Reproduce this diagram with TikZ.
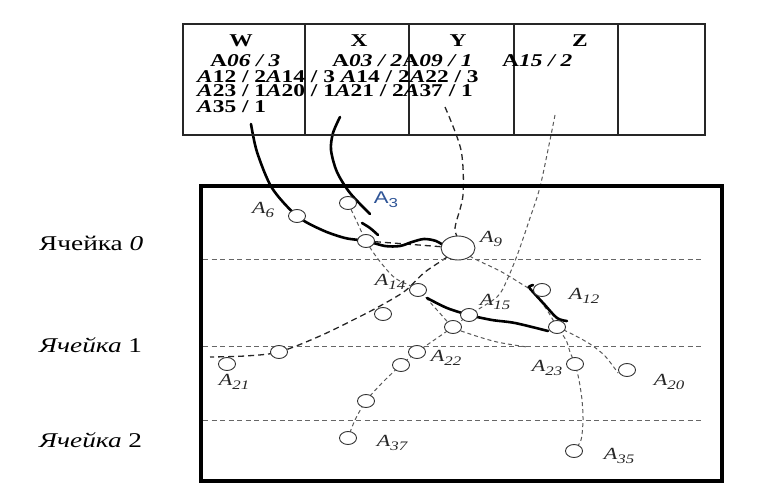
\documentclass[tikz,border=0pt]{standalone}
\usepackage{fontspec}
\setmainfont{Liberation Serif}[FakeStretch=1.3]
\newfontfamily\labsans{Liberation Sans}[FakeStretch=1.3]
\usetikzlibrary{shapes.geometric,backgrounds}
\definecolor{labblue}{RGB}{46,84,150}
\newcommand{\lsub}[1]{\raisebox{-0.45ex}{\fontsize{13}{13}\selectfont #1}}

\begin{document}
\begin{tikzpicture}[x=1pt, y=-1pt,
    frame/.style={draw=black, line width=3.5pt},
    cellline/.style={draw=black!85, line width=1.2pt},
    rowline/.style={draw=black!60, line width=0.9pt, dash pattern=on 5pt off 3.5pt},
    pathA/.style={draw=black!85, line width=1.3pt, dash pattern=on 6pt off 4pt},
    pathB/.style={draw=black!65, line width=1pt, dash pattern=on 4pt off 3pt},
    route/.style={draw=black, line width=2.6pt, line cap=round},
    spot/.style={draw=black!80, ellipse, line width=0.9pt, fill=white, minimum width=17pt, minimum height=13pt, inner sep=0pt},
    bigspot/.style={spot, minimum width=34pt, minimum height=24pt},
    lab/.style={font=\fontsize{17}{17}\selectfont\itshape, text=black!85, inner sep=0pt},
    hdr/.style={font=\fontsize{18}{18}\selectfont\bfseries, anchor=base},
    cell/.style={font=\fontsize{18}{18}\selectfont\bfseries, anchor=base west, inner sep=0pt},
    row/.style={font=\fontsize{21}{21}\selectfont, anchor=west, inner sep=0pt}
]
    \useasboundingbox (0,0) rectangle (775,492);

    % Таблица сверху
    \draw[cellline] (183,24) rectangle (705,135);
    \foreach \x in {305,409,514,618}
        \draw[cellline] (\x,24) -- (\x,135);
    \node[hdr] (hw) at (241,47) {W};
    \node[hdr] (hx) at (359,47) {X};
    \node[hdr] (hy) at (458,47) {Y};
    \node[hdr] (hz) at (580,47) {Z};
    \node[cell] (t1a) at (210,67) {A\textit{06 / 3}};
    \node[cell] (t1b) at (332,67) {A\textit{03 / 2}A\textit{09 / 1}};
    \node[cell] (t1c) at (502,67) {A\textit{15 / 2}};
    \node[cell] (t2) at (197,83) {\textit{A}12 / 2\textit{A}14 / 3 \textit{A}14 / 2\textit{A}22 / 3};
    \node[cell] (t3) at (197,97) {\textit{A}23 / 1\textit{A}20 / 1\textit{A}21 / 2\textit{A}37 / 1};
    \node[cell] (t4) at (197,112) {\textit{A}35 / 1};

    % Поле и ячейки
    \draw[frame] (201,186) rectangle (722,481);
    \foreach \y in {259,346,420}
        \draw[rowline] (203,\y) -- (704,\y);
    \node[row] (r0) at (39,243) {Ячейка \textit{0}};
    \node[row] (r1) at (39,345) {\textit{Ячейка} 1};
    \node[row] (r2) at (39,440) {\textit{Ячейка} 2};

    % Позиции
    \node[spot] (a6) at (297,216) {};
    \node[spot] (a3) at (348,203) {};
    \node[spot] (c0) at (366,241) {};
    \node[bigspot] (a9) at (458,248) {};
    \node[spot] (a14) at (418,290) {};
    \node[spot] (cl) at (383,314) {};
    \node[spot] (a15) at (469,315) {};
    \node[spot] (c15) at (453,327) {};
    \node[spot] (a12) at (542,290) {};
    \node[spot] (c12) at (557,327) {};
    \node[spot] (a22) at (417,352) {};
    \node[spot] (c22) at (401,365) {};
    \node[spot] (c37) at (366,401) {};
    \node[spot] (a37) at (348,438) {};
    \node[spot] (a21) at (227,364) {};
    \node[spot] (c21) at (279,352) {};
    \node[spot] (a23) at (575,364) {};
    \node[spot] (a20) at (627,370) {};
    \node[spot] (a35) at (574,451) {};

    % Подписи
    \node[lab] (l6) at (263,210) {A\lsub{6}};
    \node[font=\fontsize{17}{17}\selectfont\labsans, text=labblue, inner sep=0pt] (l3) at (386,200) {A\lsub{3}};
    \node[lab] (l9) at (491,239) {A\lsub{9}};
    \node[lab] (l14) at (390,282) {A\lsub{14}};
    \node[lab] (l15) at (495,302) {A\lsub{15}};
    \node[lab] (l12) at (584,296) {A\lsub{12}};
    \node[lab] (l22) at (446,358) {A\lsub{22}};
    \node[lab] (l21) at (234,382) {A\lsub{21}};
    \node[lab] (l23) at (547,368) {A\lsub{23}};
    \node[lab] (l20) at (669,382) {A\lsub{20}};
    \node[lab] (l37) at (392,443) {A\lsub{37}};
    \node[lab] (l35) at (619,456) {A\lsub{35}};

    % Концы линий в таблице
    \coordinate (w0) at (251,124);
    \coordinate (x0) at (340,117);
    \coordinate (y0) at (445,107);
    \coordinate (z0) at (555,115);

    \begin{scope}[on background layer]
        % пунктирные траектории
        \draw[pathA] plot[smooth] coordinates {(y0) (461,150) (463,195) (455,228) (a9) (425,272) (405,291) (380,306) (357,318) (320,336) (c21) (245,356) (210,357)};
        \draw[pathA] (c0) -- (a9);
        \draw[pathB] plot[smooth] coordinates {(z0) (550,140) (540,187) (530,218) (518,253) (507,280) (497,297) (a15) (c15) (a22) (c22) (382,383) (c37) (355,420) (a37)};
        \draw[pathB] plot[smooth] coordinates {(a3) (357,222) (c0) (378,259) (395,278) (a14) (437,310) (c15) (470,334) (497,342) (527,347)};
        \draw[pathB] plot[smooth] coordinates {(a9) (473,258) (500,271) (520,283) (533,292) (547,310) (c12) (566,340) (570,352) (a23) (579,380) (582,400) (583,420) (581,440) (a35)};
        \draw[pathB] plot[smooth] coordinates {(c12) (572,334) (590,344) (605,356) (618,373)};
        % жирные маршруты
        \draw[route] plot[smooth] coordinates {(w0) (257,152) (272,188) (a6) (322,230) (345,238) (c0) (385,246) (400,246) (412,242) (424,239) (436,241) (446,247)};
        \draw[route] plot[smooth] coordinates {(x0) (333,133) (331,150) (337,172) (350,193) (370,214)};
        \draw[route] plot[smooth] coordinates {(362,223) (370,228) (378,235)};
        \draw[route] plot[smooth] coordinates {(427,298) (447,308) (a15) (492,320) (515,323) (548,331)};
        \draw[route] plot[smooth] coordinates {(567,321) (557,318) (544,304) (533,292) (529,287) (533,285)};
    \end{scope}
\end{tikzpicture}
\end{document}
